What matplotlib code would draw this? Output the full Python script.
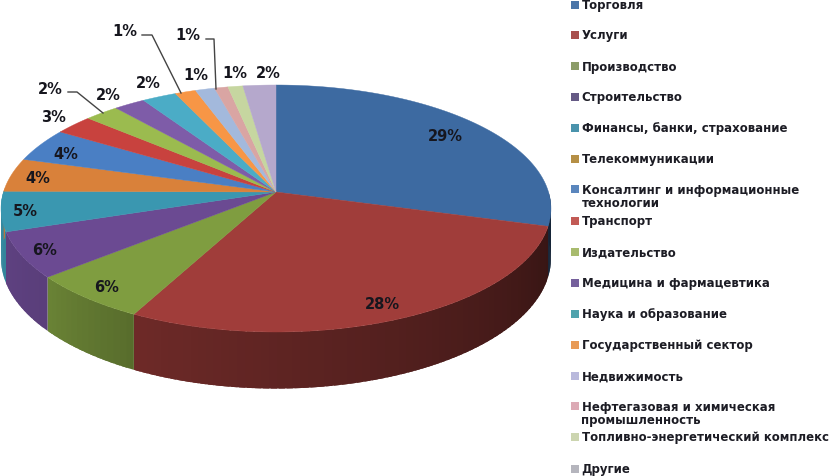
import numpy as np
import matplotlib
matplotlib.use("Agg")
import matplotlib.pyplot as plt

categories = ["Торговля", "Услуги", "Производство", "Строительство",
              "Финансы, банки, страхование", "Телекоммуникации",
              "Консалтинг и информационные\nтехнологии", "Транспорт",
              "Издательство", "Медицина и фармацевтика", "Наука и образование",
              "Государственный сектор", "Недвижимость",
              "Нефтегазовая и химическая\nпромышленность",
              "Топливно-энергетический комплекс", "Другие"]
values = [29.4, 28.2, 6.3, 6.0, 5.2, 4.4, 4.4, 2.6, 2.3, 2.1, 2.3, 1.4, 1.3, 0.9, 1.0, 2.2]
colors = ["#3d6aa1", "#a03d3a", "#7f9d40", "#6b4a92", "#3a97b0", "#d9813a",
          "#4a7fc4", "#c8423e", "#9bbb4f", "#7e5ca8", "#4bacc6", "#f79646",
          "#a3b9dc", "#d9a5a3", "#c6d6a0", "#b5a8cc"]
legend_colors = ["#4a75a8", "#a84f4d", "#8c9c68", "#655a85", "#4a93ac", "#b58f45",
                 "#5a86bd", "#c25a55", "#a8bb6e", "#75609c", "#4fa3ad", "#e89a55",
                 "#b9b9dc", "#dcaab5", "#ccd5b0", "#b5b5bd"]

# perspective of the pie, in image pixels
cx, cy = 276, 193
A, B, k, depth = 272.5, 121.3, 0.1336, 49


def project(theta, drop=0):
    w = 1 + k * np.cos(theta)
    return cx + A * np.sin(theta) / w, cy + (-B * np.cos(theta) + drop) / w


def shade(color, factor):
    return tuple(c * factor for c in matplotlib.colors.to_rgb(color))


fig = plt.figure(figsize=(8.36, 4.77), dpi=100)
ax = fig.add_axes([0, 0, 1, 1])
ax.set_xlim(0, 836)
ax.set_ylim(477, 0)
ax.axis("off")

edges = np.cumsum([0] + values) / sum(values) * 2 * np.pi

# side wall, only the part facing the viewer; pieces overlap so no seams show
for i, c in enumerate(colors):
    t0, t1 = max(edges[i], np.pi / 2), min(edges[i + 1], 3 * np.pi / 2 + 0.02)
    if t1 <= t0:
        continue
    steps = np.linspace(t0, t1, max(int((t1 - t0) * 40), 2) + 1)
    for j, (a, b) in enumerate(zip(steps[:-1], steps[1:])):
        f = np.interp(np.degrees(a), [95, 110, 205, 230, 270], [0.33, 0.36, 0.68, 0.84, 0.92])
        end = b if j == len(steps) - 2 else b + 0.02
        ts = np.array([a, (a + end) / 2, end])
        xt, yt = project(ts)
        xb, yb = project(ts, depth)
        ax.fill(np.r_[xt, xb[::-1]], np.r_[yt, yb[::-1]], color=shade(c, f), lw=0, zorder=2)

# top face
for i, c in enumerate(colors):
    ts = np.linspace(edges[i], edges[i + 1], 80)
    xs, ys = project(ts)
    ax.fill(np.r_[cx, xs], np.r_[cy, ys], color=c, lw=0.3, zorder=3)

# data labels
label_pos = [(445, 137), (382, 305), (107, 288), (45, 251), (25, 212), (38, 179),
             (66, 155), (53, 117), (50, 89), (108, 96), (148, 83), (125, 32),
             (196, 76), (188, 35), (235, 74), (268, 74)]
for v, (x, y) in zip(values, label_pos):
    ax.text(x, y, f"{max(round(v), 1)}%", ha="center", va="center", fontsize=10.5,
            fontweight="bold", color="#16161e", zorder=5)

# leader lines
leaders = [[(142, 36), (152, 36), (181, 94)],
           [(206, 40), (214, 40), (216, 90)],
           [(68, 93), (77, 93), (103, 114)]]
for pts in leaders:
    ax.plot(*zip(*pts), color="#444444", lw=1, zorder=4)

# legend
legend_y = [5.5, 36, 67, 98, 129, 160, 197, 222, 253, 284, 315, 346, 377, 414, 438, 470]
for name, c, y in zip(categories, legend_colors, legend_y):
    two = "\n" in name
    ax.scatter([575], [y - 7.5 if two else y], marker="s", s=33, color=c, lw=0, zorder=5)
    ax.text(581.5, y, name, ha="left", va="center", fontsize=8.45, fontweight="bold",
            color="#1c1c24", linespacing=1.05, zorder=5)

fig.savefig("out.png", dpi=100)
